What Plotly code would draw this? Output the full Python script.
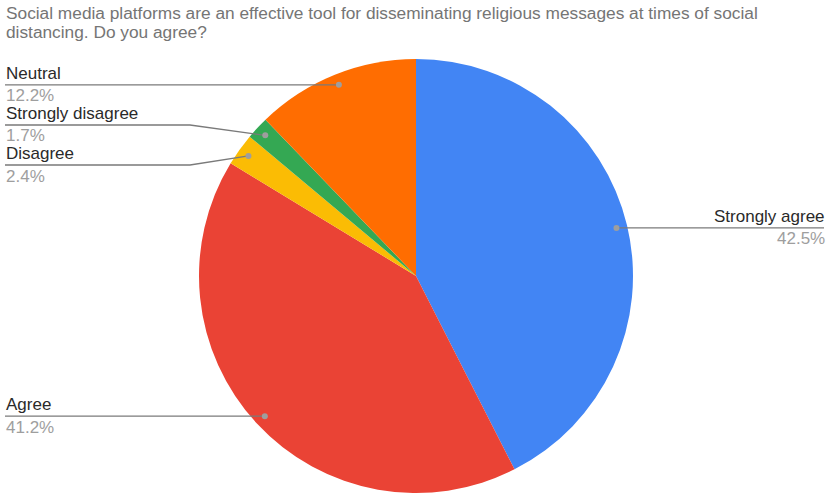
import math
import plotly.graph_objects as go

labels = ["Strongly agree", "Agree", "Disagree", "Strongly disagree", "Neutral"]
values = [42.5, 41.2, 2.4, 1.7, 12.2]
colors = ["#4285F4", "#EA4335", "#FBBC04", "#34A853", "#FF6D01"]
title_lines = ["Social media platforms are an effective tool for disseminating religious messages at times of social",
               "distancing. Do you agree?"]

W, H = 832, 494
cx, cy, R = 416, 276, 217

fig = go.Figure(go.Pie(
    labels=labels, values=values, sort=False, direction="clockwise", rotation=0,
    marker=dict(colors=colors, line=dict(width=0)),
    textinfo="none", hoverinfo="label+percent", showlegend=False,
    domain=dict(x=[(cx - R) / W, (cx + R) / W], y=[(H - cy - R) / H, (H - cy + R) / H]),
))

def px(x):
    return x / W

def py(y):
    return 1 - y / H

# label layout: (side, label line y, elbow x or None)
layout_spec = {
    "Strongly agree": ("right", None, None),
    "Agree": ("left", None, None),
    "Disagree": ("left", 165, 190),
    "Strongly disagree": ("left", 125, 190),
    "Neutral": ("left", None, None),
}

FONT = "Liberation Sans, Arial"
total = sum(values)
shapes = []
annotations = []
cum = 0
for lab, val in zip(labels, values):
    mid = (cum + val / 2) / total * 2 * math.pi
    cum += val
    dx, dy = math.sin(mid), -math.cos(mid)
    x0, y0 = cx + 0.95 * R * dx, cy + 0.95 * R * dy
    side, ly, ex = layout_spec[lab]
    pct = f"{val / total * 100:.1f}%"
    lc = "#7a7a7a"
    if side == "right":
        ly = y0
        shapes.append(dict(type="line", xref="paper", yref="paper", x0=px(x0), y0=py(ly), x1=px(824), y1=py(ly),
                           line=dict(color=lc, width=1.3)))
        ax, anchor = 826, "right"
    else:
        if ly is None:
            ly = y0
            shapes.append(dict(type="line", xref="paper", yref="paper", x0=px(5), y0=py(ly), x1=px(x0), y1=py(ly),
                               line=dict(color=lc, width=1.3)))
        else:
            shapes.append(dict(type="path", xref="paper", yref="paper",
                               path=f"M {px(5)},{py(ly)} L {px(ex)},{py(ly)} L {px(x0)},{py(y0)}",
                               line=dict(color=lc, width=1.3)))
        ax, anchor = 5, "left"
    shapes.append(dict(type="circle", xref="paper", yref="paper",
                       x0=px(x0 - 3), x1=px(x0 + 3), y0=py(y0 + 3), y1=py(y0 - 3),
                       fillcolor="#9e9e9e", line=dict(width=0)))
    annotations.append(dict(xref="paper", yref="paper", x=px(ax), y=py(ly - 1), xanchor=anchor, yanchor="bottom",
                            text=lab, showarrow=False, borderpad=0,
                            font=dict(family=FONT, size=17, color="#2a2a2a")))
    annotations.append(dict(xref="paper", yref="paper", x=px(ax), y=py(ly + 0.5), xanchor=anchor, yanchor="top",
                            text=pct, showarrow=False, borderpad=0,
                            font=dict(family=FONT, size=17, color="#9e9e9e")))

for i, t in enumerate(title_lines):
    annotations.append(dict(xref="paper", yref="paper", x=px(5), y=py(13 + 19.5 * i), xanchor="left", yanchor="middle",
                            text=t, showarrow=False, align="left", borderpad=0,
                            font=dict(family=FONT, size=17.3, color="#757575")))

fig.update_layout(
    width=W, height=H, margin=dict(l=0, r=0, t=0, b=0),
    paper_bgcolor="white", plot_bgcolor="white",
    shapes=shapes, annotations=annotations,
)
fig.write_html("out.html")
